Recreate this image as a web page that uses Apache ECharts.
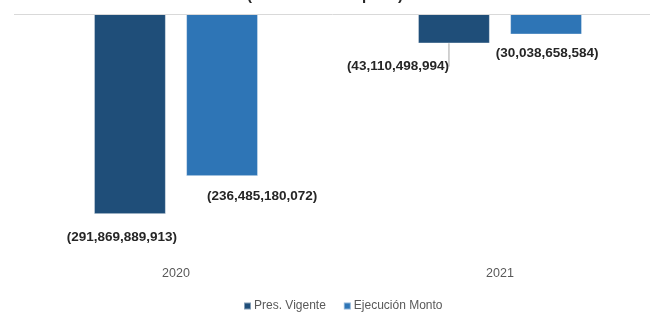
<!DOCTYPE html>
<html>
<head>
<meta charset="utf-8">
<script src="https://cdn.jsdelivr.net/npm/echarts@6/dist/echarts.min.js"></script>
<style>
  html, body { margin: 0; padding: 0; background: #fff; }
  #chart { width: 650px; height: 312px; }
</style>
</head>
<body>
<div id="chart"></div>
<script>
var years = ['2020', '2021'];
var presVigente = [-291869889913, -43110498994];
var ejecucion = [-236485180072, -30038658584];

// label nudges [dx, dy] per series / per year
var labelShift = [
    [[-8, 11], [-56, 11]],
    [[40, 8], [1, 7]]
];

var fmt = function(p) {
    return '(' + Math.abs(p.value).toLocaleString('en-US') + ')';
};

var myChart = echarts.init(document.getElementById('chart'));

var labelStyle = {
    show: true,
    position: 'bottom',
    formatter: fmt,
    fontFamily: 'Liberation Sans',
    fontWeight: 'bold',
    fontSize: 13.5,
    color: '#262626'
};

var option = {
    animation: false,
    title: {
        text: '(Valores en Lempiras)',
        left: 'center',
        top: -17,
        textStyle: { fontFamily: 'Liberation Sans', fontWeight: 'bold', fontSize: 15, color: '#262626' }
    },
    legend: {
        bottom: -5,
        left: 238,
        icon: 'rect',
        itemWidth: 7,
        itemHeight: 7,
        itemGap: 17,
        textStyle: { fontFamily: 'Liberation Sans', fontSize: 12, color: '#595959', padding: [0, 0, 0, -2] },
        data: ['Pres. Vigente', 'Ejecución Monto']
    },
    grid: { left: 14, top: 14, width: 648, bottom: 58, outerBoundsMode: 'none' },
    xAxis: {
        type: 'category',
        data: years,
        position: 'bottom',
        axisLine: { show: false, onZero: false },
        axisTick: { show: false },
        axisLabel: { fontFamily: 'Liberation Sans', fontSize: 12.5, color: '#595959', margin: 13 }
    },
    yAxis: {
        type: 'value',
        min: -350000000000,
        max: 0,
        show: false,
        splitLine: { show: false }
    },
    labelLayout: function(p) {
        var s = labelShift[p.seriesIndex][p.dataIndex];
        return { dx: s[0], dy: s[1] };
    },
    series: [{
        name: 'Pres. Vigente',
        type: 'bar',
        barWidth: 72,
        barGap: '28%',
        itemStyle: { color: '#1f4e79', borderColor: 'rgba(255,255,255,0.45)', borderWidth: 1 },
        label: labelStyle,
        labelLine: { show: true, lineStyle: { color: '#a6a6a6', width: 1 } },
        data: [
            { value: presVigente[0], labelLine: { show: false } },
            { value: presVigente[1] }
        ],
        markLine: {
            silent: true,
            symbol: 'none',
            label: { show: false },
            lineStyle: { color: '#d9d9d9', width: 1, type: 'solid' },
            data: [{ yAxis: 0 }]
        }
    }, {
        name: 'Ejecución Monto',
        type: 'bar',
        barWidth: 72,
        barGap: '28%',
        itemStyle: { color: '#2e75b6', borderColor: 'rgba(255,255,255,0.45)', borderWidth: 1 },
        label: labelStyle,
        data: ejecucion
    }]
};

myChart.setOption(option);
</script>
</body>
</html>
